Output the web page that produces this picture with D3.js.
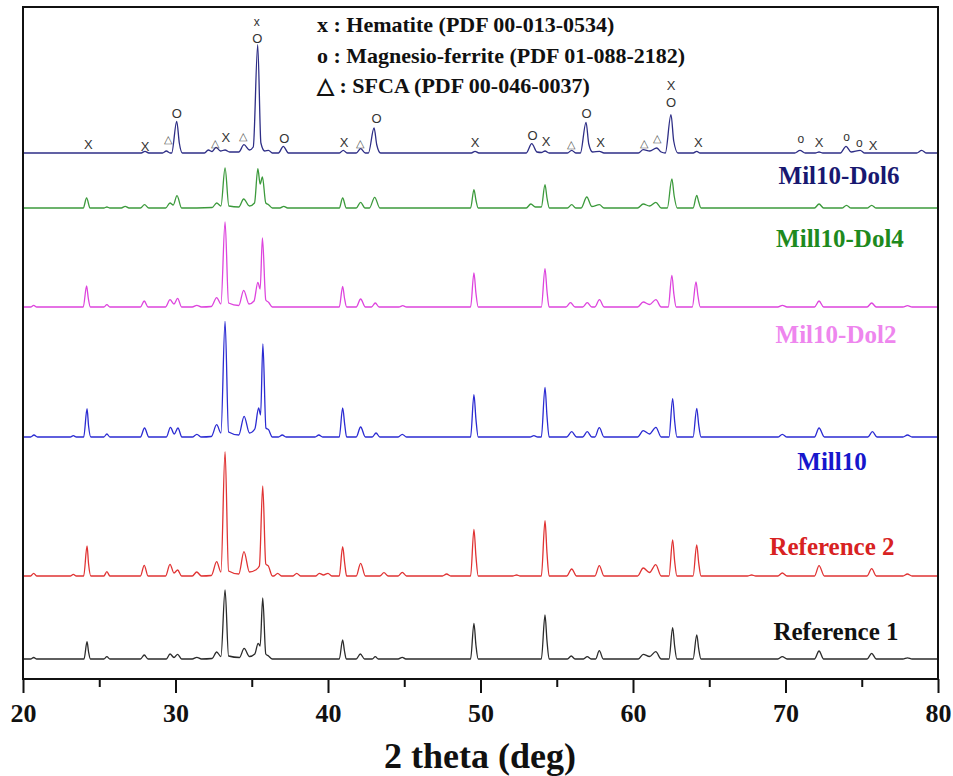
<!DOCTYPE html>
<html><head><meta charset="utf-8">
<script src="https://cdn.jsdelivr.net/npm/d3@7"></script>
<style>
html,body{margin:0;padding:0;background:#fff;}
svg{display:block;}
</style>
</head><body>
<svg id="chart" width="953" height="776"></svg>
<script>
// ---------- DATA (2θ in degrees, intensity in a.u. above each pattern's own baseline) ----------
const seriesNames = ["Reference 1", "Reference 2", "Mill10", "Mil10-Dol2", "Mill10-Dol4", "Mil10-Dol6"];
const seriesOffsets = [20, 103, 242, 372, 471, 526];   // vertical stacking offsets (a.u.)
const lineColors = ["#2b2b2b", "#e03333", "#2b2bd2", "#dd44dd", "#3c9a3c", "#2e2e86"];
const labelColors = ["#111111", "#d82222", "#1616cc", "#ee86ee", "#1e8a1e", "#181870"];

const ref1 = [[20,0],[20.5,0],[20.7,1.5],[20.9,0],
 [24.0,0],[24.2,17.3],[24.3,7],[24.42,0],[25.3,0],[25.5,2.3],[25.7,0],[27.7,0],[27.95,4],[28.2,0],
 [29.4,0],[29.64,5],[29.9,1.5],[30.14,4.7],[30.4,0],[31.1,0],[31.4,1.7],[31.7,0],
 [32.4,0.5],[32.7,7],[32.98,2.5],[33.25,69],[33.48,3],[34.2,1.5],[34.5,10.7],[34.85,2.5],[35.2,5],[35.42,15.7],[35.55,13],[35.72,61],[35.92,5],[36.1,3],[36.35,0],
 [40.74,0],[40.96,19],[41.08,8],[41.2,0],[41.85,0],[42.12,5],[42.4,0],[42.9,0],[43.1,2.3],[43.3,0],[44.6,0],[44.87,1.7],[45.1,0],
 [49.35,0],[49.57,35.7],[49.7,14],[49.85,0],[53.99,0],[54.23,44],[54.36,18],[54.5,0],
 [55.7,0],[55.95,3],[56.2,0],[56.75,0],[57.0,2.3],[57.25,0],[57.55,0],[57.79,8.3],[58.05,0],
 [60.35,0],[60.67,4.7],[61.08,2.5],[61.49,7.3],[61.85,0],[62.36,0],[62.6,31.3],[62.73,13],[62.88,0],
 [63.94,0],[64.18,24],[64.31,10],[64.46,0],[69.5,0],[69.79,2.3],[70.1,0],[71.9,0],[72.2,8],[72.5,0],
 [75.35,0],[75.65,5.7],[75.95,0],[77.7,0],[78.0,1.2],[78.3,0],[80,0]];

const ref2 = [[20,0],[20.5,0],[20.7,2.7],[20.9,0],[23.1,0],[23.3,1.7],[23.5,0],
 [23.98,0],[24.2,30],[24.3,12],[24.45,0],[25.3,0],[25.5,4.3],[25.7,0],[27.7,0],[27.95,10.7],[28.2,0],
 [29.35,0],[29.64,11.7],[29.9,3],[30.14,6],[30.4,0],[31.1,0],[31.39,4],[31.7,0],
 [32.35,0.5],[32.7,14.3],[32.98,4],[33.25,124.3],[33.48,5],[34.15,2],[34.49,24.3],[34.85,4],[35.25,6],[35.5,10],[35.72,90],[35.92,12],[36.09,10],[36.35,0],
 [36.45,0],[36.7,2.7],[36.95,0],[37.7,0],[37.95,2.7],[38.2,0],[39.2,0],[39.43,2.7],[39.7,1],[40.0,2.7],[40.25,0],
 [40.74,0],[40.96,29.3],[41.1,12],[41.22,0],[41.85,0],[42.14,12.7],[42.45,0],[43.4,0],[43.67,3.3],[43.95,0],
 [44.6,0],[44.87,3.7],[45.15,0],[47.5,0],[47.78,2],[48.05,0],
 [49.35,0],[49.57,46.7],[49.7,20],[49.85,0],[52.1,0],[52.37,1],[52.6,0],[53.99,0],[54.23,55.3],[54.36,23],[54.5,0],
 [55.65,0],[55.98,7],[56.3,0],[57.5,0],[57.79,10.3],[58.1,0],
 [60.3,0],[60.67,8],[61.08,3.5],[61.49,11.3],[61.85,0],[62.36,0],[62.6,36],[62.73,15],[62.88,0],
 [63.94,0],[64.18,31],[64.31,13],[64.46,0],[67.5,0],[67.78,1],[68.05,0],[69.5,0],[69.79,3],[70.1,0],
 [71.9,0],[72.2,10.3],[72.55,0],[75.35,0],[75.65,7.3],[75.95,0],[77.7,0],[77.99,2],[78.3,0],[80,0]];

const mill10 = [[20,0],[20.5,0],[20.72,2],[20.95,0],[23.1,0],[23.3,1.3],[23.5,0],
 [23.98,0],[24.2,28.3],[24.3,11],[24.45,0],[25.3,0],[25.5,3],[25.7,0],[27.7,0],[27.97,9],[28.25,0],
 [29.4,0],[29.67,9.7],[29.92,3],[30.16,9],[30.42,0],[31.1,0],[31.4,2.7],[31.7,0],
 [32.35,0.5],[32.7,12.3],[32.98,4],[33.25,115.7],[33.48,5],[34.15,2],[34.5,20.7],[34.85,4],[35.2,8],[35.45,29],[35.58,22],[35.73,93],[35.93,9],[36.1,7.3],[36.35,0],
 [36.75,0],[37.0,2],[37.25,0],[39.15,0],[39.4,2],[39.65,0],
 [40.74,0],[40.96,29],[41.1,12],[41.22,0],[41.85,0],[42.14,10],[42.45,0],[42.9,0],[43.15,4],[43.4,0],[44.6,0],[44.87,2.7],[45.15,0],
 [49.35,0],[49.57,42.3],[49.7,18],[49.85,0],[53.25,0],[53.5,1.3],[53.75,0],[53.99,0],[54.23,49.7],[54.36,21],[54.5,0],
 [55.65,0],[55.98,5.3],[56.3,0],[56.7,0],[57.0,5.3],[57.3,0],[57.5,0],[57.79,9.3],[58.1,0],
 [60.3,0],[60.67,6.3],[61.08,3],[61.5,9.7],[61.85,0],[62.36,0],[62.6,38.3],[62.73,16],[62.88,0],
 [63.94,0],[64.18,28.7],[64.31,12],[64.46,0],[69.5,0],[69.79,2.7],[70.1,0],[71.9,0],[72.2,9],[72.55,0],
 [75.4,0],[75.7,5.3],[76.0,0],[77.7,0],[78.0,2],[78.3,0],[80,0]];

const dol2 = [[20,0],[20.5,0],[20.7,1.7],[20.9,0],
 [23.95,0],[24.17,21],[24.28,9],[24.42,0],[25.3,0],[25.5,2.3],[25.7,0],[27.7,0],[27.95,6],[28.2,0],
 [29.35,0],[29.64,7.3],[29.9,3],[30.14,8.7],[30.4,0],[31.1,0],[31.4,1.7],[31.7,0],
 [32.35,0.5],[32.7,9.3],[32.98,3],[33.25,85],[33.48,4],[34.15,1.5],[34.47,16.7],[34.82,3],[35.15,6],[35.4,24.7],[35.55,18],[35.7,69],[35.92,7],[36.1,4.7],[36.35,0],
 [40.74,0],[40.96,20.7],[41.08,9],[41.22,0],[41.85,0],[42.14,8],[42.45,0],[42.85,0],[43.1,4],[43.35,0],[44.65,0],[44.9,1.3],[45.15,0],
 [49.35,0],[49.57,34],[49.7,14],[49.85,0],[53.99,0],[54.23,38.3],[54.36,16],[54.5,0],
 [55.6,0],[55.9,4.3],[56.2,0],[56.7,0],[57.0,4.3],[57.3,0],[57.5,0],[57.8,7.3],[58.1,0],
 [60.3,0],[60.67,5],[61.08,2.5],[61.5,7.3],[61.85,0],[62.31,0],[62.55,31.7],[62.68,13],[62.83,0],
 [63.89,0],[64.13,25],[64.26,11],[64.41,0],[69.5,0],[69.8,1.7],[70.1,0],[71.9,0],[72.2,6],[72.5,0],
 [75.35,0],[75.65,4],[75.95,0],[77.7,0],[78.0,1.3],[78.3,0],[80,0]];

const dol4 = [[20,0],[23.95,0],[24.17,10],[24.4,0],[25.3,0],[25.5,1],[25.7,0],[26.45,0],[26.7,1.7],[26.95,0],
 [27.7,0],[27.97,3.3],[28.25,0],[29.35,0],[29.64,5],[29.85,3],[30.1,12.3],[30.4,0],
 [32.4,0.5],[32.7,5],[32.98,2],[33.25,40],[33.5,2],[34.15,1],[34.47,9],[34.85,2],[35.18,5],[35.4,39.3],[35.55,24],[35.7,31],[35.92,5],[36.1,3.3],[36.35,0],
 [36.85,0],[37.1,1.7],[37.35,0],[40.74,0],[40.96,10],[41.2,0],[41.85,0],[42.14,5.7],[42.42,0],[42.72,0],[43.06,10.7],[43.4,0],
 [49.35,0],[49.57,18.3],[49.7,8],[49.85,0],[53.0,0],[53.3,4],[53.6,1],[53.99,1],[54.23,23.3],[54.36,10],[54.52,0],
 [55.7,0],[55.98,3.3],[56.25,0],[56.6,0],[56.97,11],[57.3,1.5],[57.8,3.3],[58.1,0],
 [60.3,0],[60.67,4],[61.08,2],[61.5,5.7],[61.85,0],[62.25,0],[62.55,29],[62.7,12],[62.9,0],
 [63.94,0],[64.18,12.7],[64.31,6],[64.46,0],[71.9,0],[72.2,4],[72.5,0],[73.7,0],[74.0,2.7],[74.3,0],
 [75.35,0],[75.65,2.7],[75.95,0],[80,0]];

const dol6 = [[20,0],[27.75,0],[28.0,1.7],[28.25,0],[29.15,0],[29.4,2],[29.65,0],
 [29.75,0],[30.08,31.7],[30.25,10],[30.45,0],[31.9,0],[32.15,3],[32.4,1.5],[32.66,5.7],[32.95,2],[33.25,3],[33.55,1],
 [34.15,1],[34.49,8.3],[34.85,3],[35.1,6],[35.39,108.3],[35.6,10],[35.85,2],[36.1,2.7],[36.35,0],
 [36.75,0],[37.07,6.7],[37.4,0],[40.75,0],[41.0,2.7],[41.25,0],[41.85,0],[42.14,4.3],[42.45,0],
 [42.65,0],[43.02,25],[43.2,8],[43.45,0],[49.4,0],[49.64,1.7],[49.9,0],
 [53.0,0],[53.36,9.3],[53.7,1],[53.99,0.5],[54.23,2],[54.5,0],[55.7,0],[55.98,2.7],[56.25,0],
 [56.55,0],[56.92,30.7],[57.1,9],[57.35,1],[57.8,1.7],[58.1,0],
 [60.35,0],[60.67,3.3],[61.1,2],[61.55,5],[61.85,1],[62.12,0],[62.49,38.3],[62.67,12],[62.95,0],
 [63.95,0],[64.18,1.7],[64.4,0],[70.6,0],[70.95,2.7],[71.3,0],[71.95,0],[72.2,1],[72.45,0],
 [73.6,0],[73.97,6.7],[74.3,1],[74.9,2.7],[75.2,0],[78.6,0],[78.93,2.7],[79.25,0],[80,0]];

const seriesData = [ref1, ref2, mill10, dol2, dol4, dol6];

// Phase markers above the top pattern: [2θ, symbol, intensity level a.u.]
const phaseMarkers = [
 [24.28,"X",535],[28.0,"X",533],[29.5,"△",540],[30.08,"O",566],[32.6,"△",536],[33.3,"X",542],
 [34.45,"△",543],[35.32,"x",657],[35.36,"O",641],[37.13,"O",541],[41.05,"X",537],[42.1,"△",536],
 [43.19,"O",561],[49.64,"X",537],[53.42,"O",544],[54.3,"X",538],[55.93,"△",535],[56.96,"O",566],
 [57.88,"X",537],[60.72,"△",536],[61.6,"△",541],[62.49,"X",594],[62.49,"O",577],[64.28,"X",537],
 [71.0,"o",540],[72.2,"X",537],[74.0,"o",542],[74.84,"o",536],[75.75,"X",534]];

const legendLines = ["x : Hematite (PDF 00-013-0534)", "o : Magnesio-ferrite (PDF 01-088-2182)", "△ : SFCA (PDF 00-046-0037)"];
const majorTicks = [20, 30, 40, 50, 60, 70, 80];
const minorTicks = [25, 35, 45, 55, 65, 75];
const xTitle = "2 theta (deg)";

// ---------- DRAWING ----------
const svg = d3.select("#chart");
const plotLeft = 23, plotRight = 938, plotTop = 7, plotBottom = 679;
const x = d3.scaleLinear().domain([20, 80]).range([plotLeft, plotRight]);
const y = d3.scaleLinear().domain([0, plotBottom - plotTop]).range([plotBottom, plotTop]);
const serif = "'Liberation Serif','Times New Roman',Times,serif";

// patterns
seriesData.forEach((data, i) => {
  const off = seriesOffsets[i];
  const line = d3.line().x(d => x(d[0])).y(d => y(d[1] + off)).curve(d3.curveMonotoneX);
  svg.append("path").datum(data).attr("d", line)
    .attr("fill", "none").attr("stroke", lineColors[i]).attr("stroke-width", 1.3)
    .attr("stroke-linejoin", "round");
});

// series labels
const labelPos = [[836, 640], [832, 555], [832, 470], [836, 343], [840, 247], [839, 184]];
seriesNames.forEach((n, i) => {
  svg.append("text").text(n)
    .attr("x", labelPos[i][0]).attr("y", labelPos[i][1])
    .attr("text-anchor", "middle").attr("font-family", serif)
    .attr("font-weight", "bold").attr("font-size", 25).attr("fill", labelColors[i]);
});

// phase markers
svg.append("g").selectAll("text").data(phaseMarkers).join("text")
  .attr("x", d => x(d[0])).attr("y", d => y(d[2]))
  .attr("dy", "0.35em").attr("text-anchor", "middle")
  .attr("font-family", "'Liberation Sans',Arial,sans-serif")
  .attr("font-size", d => d[1] === "△" ? 11 : (d[1] === "o" || d[1] === "x") ? 12 : 13)
  .attr("fill", d => d[1] === "△" ? "#555" : "#333")
  .text(d => d[1]);

// legend
legendLines.forEach((t, i) => {
  svg.append("text").text(t)
    .attr("x", 317).attr("y", 32 + i * 30.5)
    .attr("font-family", serif).attr("font-weight", "bold")
    .attr("font-size", 22).attr("fill", "#111");
});

// frame
svg.append("rect").attr("x", plotLeft).attr("y", plotTop).attr("width", plotRight - plotLeft).attr("height", plotBottom - plotTop)
  .attr("fill", "none").attr("stroke", "#111").attr("stroke-width", 2);

// axis
const axis = d3.axisBottom(x).tickValues(majorTicks).tickSize(14).tickPadding(4).tickFormat(d3.format("d"));
const gx = svg.append("g").attr("transform", `translate(0,${plotBottom})`).call(axis);
gx.select(".domain").remove();
gx.selectAll(".tick line").attr("stroke", "#111").attr("stroke-width", 2);
gx.selectAll(".tick text").attr("font-family", serif).attr("font-weight", "bold")
  .attr("font-size", 26).attr("fill", "#111").attr("dy", "0.95em");
const gm = svg.append("g").attr("transform", `translate(0,${plotBottom})`)
  .call(d3.axisBottom(x).tickValues(minorTicks).tickSize(8).tickFormat(""));
gm.select(".domain").remove();
gm.selectAll(".tick line").attr("stroke", "#111").attr("stroke-width", 2);

// x title
svg.append("text").text(xTitle).attr("x", 480).attr("y", 768)
  .attr("text-anchor", "middle").attr("font-family", serif).attr("font-weight", "bold")
  .attr("font-size", 36).attr("fill", "#111");
</script>
</body></html>
